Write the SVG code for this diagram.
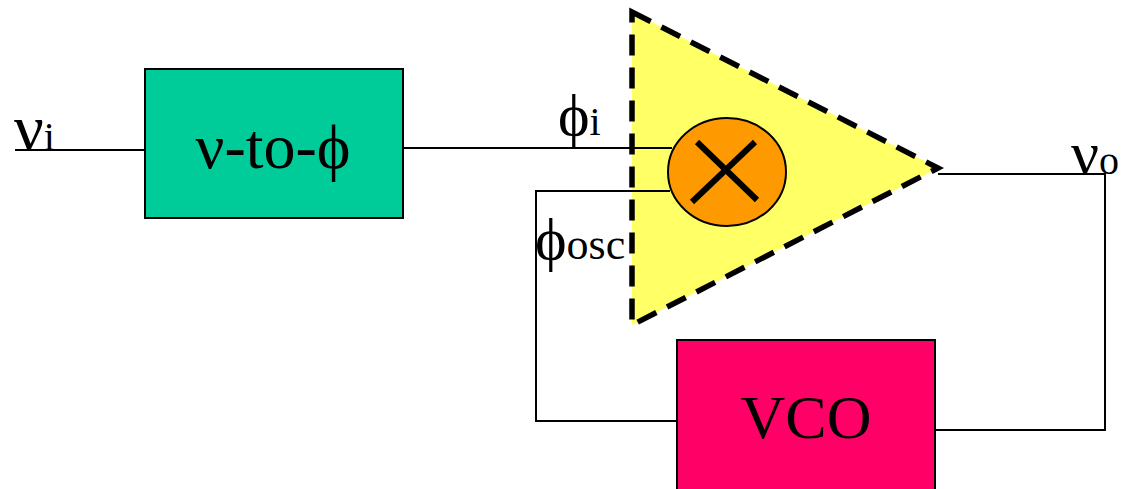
<svg xmlns="http://www.w3.org/2000/svg" width="1129" height="489" viewBox="0 0 1129 489">
<style>
.w{fill:none;stroke:#000;stroke-width:2}
.t{font-family:"Liberation Serif","DejaVu Serif","Times New Roman",serif;fill:#000}
.l{font-family:"Liberation Serif",serif}
</style>
<rect width="1129" height="489" fill="#fff"/>
<g id="connectors">
<line class="w" x1="15" y1="150" x2="145" y2="150"/>
<line class="w" x1="403" y1="148" x2="672" y2="148"/>
<polyline class="w" points="670,191 536,191 536,421 677,421"/>
<polyline class="w" points="938,174 1105,174 1105,430 935,430"/>
</g>
<g id="node-vtophi">
<rect x="145" y="69" width="258" height="149" fill="#00CC99" stroke="#000" stroke-width="2"/>
<text class="t" x="273" y="168" font-size="64" text-anchor="middle">ν<tspan class="l">-to-</tspan>ϕ</text>
</g>
<g id="node-amp">
<polygon points="632,12 938,168 632,325" fill="#FFFF66" stroke="none"/>
<polygon points="632,12 938,168 632,325" fill="none" stroke="#000" stroke-width="5.5" stroke-dasharray="21,12"/>
<line class="w" x1="632" y1="148" x2="672" y2="148"/>
<line class="w" x1="632" y1="191" x2="670" y2="191"/>
</g>
<g id="node-mixer">
<ellipse cx="727" cy="172" rx="59" ry="54" fill="#FF9900" stroke="#000" stroke-width="2"/>
<line x1="697" y1="142" x2="757" y2="200" stroke="#000" stroke-width="6"/>
<line x1="755" y1="142" x2="692" y2="202" stroke="#000" stroke-width="6"/>
</g>
<g id="node-vco">
<rect x="677" y="340" width="258" height="160" fill="#FF0066" stroke="#000" stroke-width="2"/>
<text class="t" x="806" y="438" font-size="62" text-anchor="middle">VCO</text>
</g>
<g id="labels">
<text class="t" x="14" y="150" font-size="66">ν<tspan font-size="40">i</tspan></text>
<text class="t" x="558" y="135" font-size="60">ϕ<tspan font-size="40">i</tspan></text>
<text class="t" x="535" y="259" font-size="60">ϕ<tspan font-size="44">osc</tspan></text>
<text class="t" x="1071" y="174" font-size="62">ν<tspan font-size="40">o</tspan></text>
</g>
</svg>
